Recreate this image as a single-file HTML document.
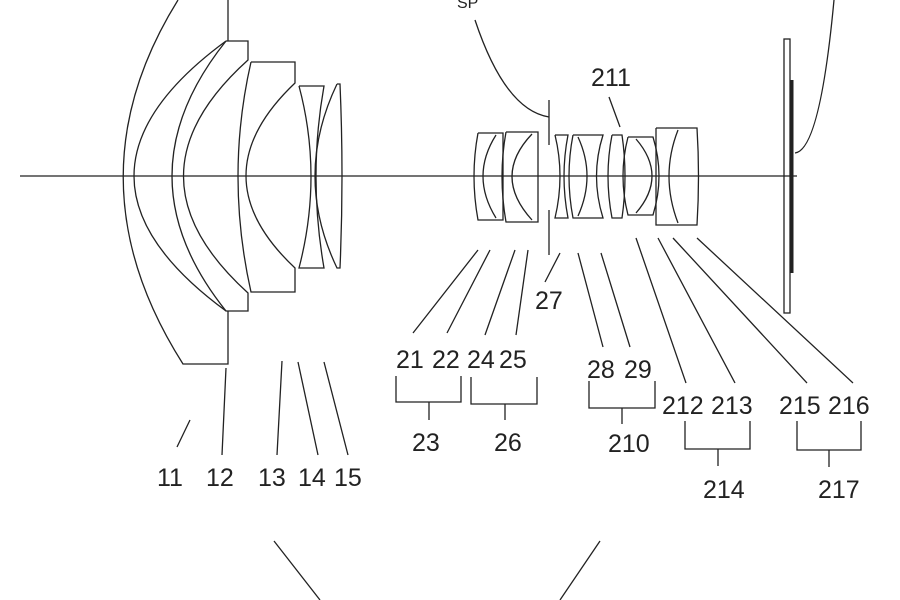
<!DOCTYPE html>
<html><head><style>
html,body{margin:0;padding:0;background:#fff;width:900px;height:600px;overflow:hidden}
svg{display:block}
text{font-family:"Liberation Sans",sans-serif;font-size:25px;fill:#222}
</style></head><body>
<svg width="900" height="600" viewBox="0 0 900 600" fill="none" stroke="#222" stroke-width="1.3">
<line x1="20" y1="176" x2="797" y2="176"/>
<!-- lens 11 -->
<path d="M178,0 Q66,180 183,364 L228,364 L228,311"/>
<line x1="228" y1="0" x2="228" y2="41"/>
<path d="M226,41 Q42,176 226,311"/>
<!-- lens 12 -->
<path d="M226,41 L248,41 L248,60 Q119,176 248,293 L248,311 L226,311 Q118,176 226,41"/>
<!-- lens 13 -->
<path d="M251,62 L295,62 L295,83 Q197,176 295,268 L295,292 L251,292 Q225,176 251,62"/>
<!-- lens 14 -->
<path d="M299,86 L324,86 Q308,176 324,268 L299,268 Q323,176 299,86"/>
<!-- lens 15 -->
<path d="M337,84 L340,84 Q344,176 340,268 L337,268 Q293,176 337,84"/>
<!-- middle group -->
<path d="M478,133 L503,133 L503,220 L478,220 Q470,176 478,133"/>
<path d="M496,135 Q470,176 496,218"/>
<path d="M506,132 L538,132 L538,222 L506,222 Q498,176 506,132"/>
<path d="M532,134 Q492,176 532,220"/>
<line x1="549" y1="100" x2="549" y2="145"/>
<line x1="549" y1="210" x2="549" y2="255"/>
<path d="M475,20 Q505,110 549,117"/>
<path d="M555,135 L568,135 Q560,176 568,218 L555,218 Q565,176 555,135"/>
<path d="M573,135 L603,135 Q590,176 603,218 L573,218 Q565,176 573,135"/>
<path d="M578,137 Q596,176 578,216"/>
<path d="M612,135 L622,135 Q628,176 622,218 L612,218 Q604,176 612,135"/>
<path d="M628,137 L653,137 Q665,176 653,215 L628,215 Q618,176 628,137"/>
<path d="M636,139 Q668,176 636,213"/>
<path d="M656,128 L697,128 Q700,176 697,225 L656,225 L656,128"/>
<path d="M678,130 Q660,176 678,223"/>
<!-- sensor -->
<rect x="784" y="39" width="6" height="274"/>
<line x1="792" y1="80" x2="792" y2="273" stroke-width="3"/>
<path d="M834,0 Q820,150 795,153"/>
<!-- leaders -->
<path d="M177,447 L190,420 M222,455 L226,368 M277,455 L282,361 M318,455 L298,362 M348,455 L324,362
M413,333 L478,250 M447,333 L490,250 M485,335 L515,250 M516,335 L528,250 M545,282 L560,253
M603,347 L578,253 M630,347 L601,253 M609,97 L620,127 M686,383 L636,238 M735,383 L658,238
M807,383 L673,238 M853,383 L697,238"/>
<!-- brackets -->
<path d="M396,376 V402 H461 V376 M429,402 V420"/>
<path d="M471,377 V404 H537 V377 M505,404 V420"/>
<path d="M589,381 V408 H655 V381 M622,408 V424"/>
<path d="M685,421 V449 H750 V421 M718,449 V466"/>
<path d="M797,421 V450 H861 V421 M829,450 V467"/>
<path d="M274,541 L320,600 M600,541 L560,600"/>
<g stroke="none">
<text x="157" y="486">11</text><text x="206" y="486">12</text><text x="258" y="486">13</text>
<text x="298" y="486">14</text><text x="334" y="486">15</text>
<text x="396" y="368">21</text><text x="432" y="368">22</text><text x="467" y="368">24</text><text x="499" y="368">25</text>
<text x="535" y="309">27</text><text x="587" y="378">28</text><text x="624" y="378">29</text>
<text x="591" y="86">211</text><text x="662" y="414">212</text><text x="711" y="414">213</text>
<text x="779" y="414">215</text><text x="828" y="414">216</text>
<text x="412" y="451">23</text><text x="494" y="451">26</text><text x="608" y="452">210</text>
<text x="703" y="498">214</text><text x="818" y="498">217</text>
<text x="457" y="8" style="font-size:16px">SP</text>
</g>
</svg>
</body></html>
